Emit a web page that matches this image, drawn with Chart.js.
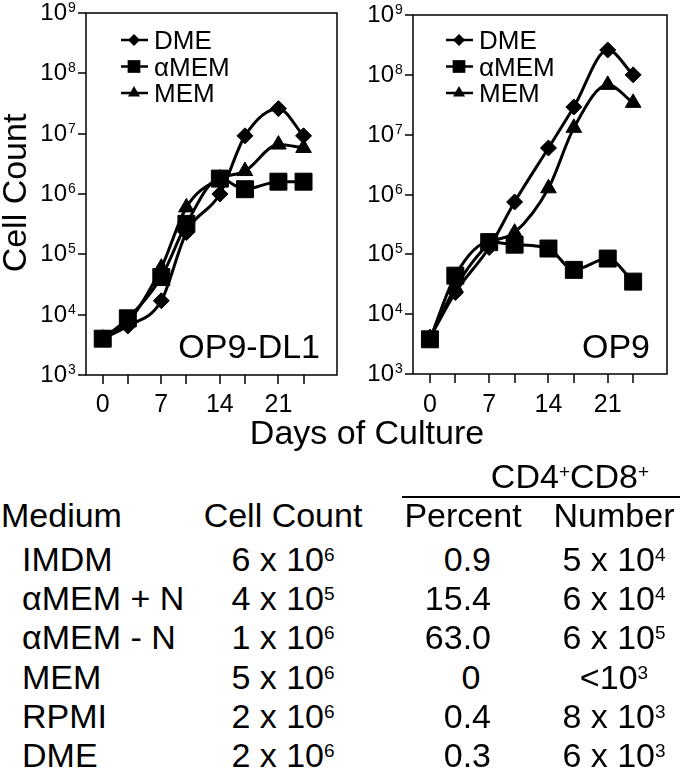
<!DOCTYPE html>
<html>
<head>
<meta charset="utf-8">
<script src="https://cdn.jsdelivr.net/npm/chart.js@4.4.0/dist/chart.umd.min.js"></script>
<style>
body { margin: 0; background: #fff; }
#wrap { position: relative; width: 680px; height: 768px; overflow: hidden; font-family: "Liberation Sans", Arial, sans-serif; color: #000; }
canvas { position: absolute; top: 0; }
.t { position: absolute; font-size: 34px; line-height: 34px; white-space: nowrap; }
.t sup { font-size: 19px; vertical-align: 10px; line-height: 0; }
</style>
</head>
<body>
<div id="wrap">
  <canvas id="left" width="350" height="460" style="left:0"></canvas>
  <canvas id="right" width="340" height="460" style="left:340px"></canvas>
  <div class="t" style="left:367px;top:415px;transform:translateX(-50%)">Days of Culture</div>
  <div id="table"></div>
</div>
<script>
var days = [0, 3, 7, 10, 14, 17, 21, 24];
var seriesNames = ['DME', 'αMEM', 'MEM'];

// OP9-DL1 panel
var dl1DME  = [4000, 6500, 17000, 230000, 1000000, 9200000, 26000000, 9200000];
var dl1aMEM = [4000, 8700, 42000, 320000, 1800000, 1200000, 1600000, 1600000];
var dl1MEM  = [4000, 7500, 60000, 600000, 1800000, 2400000, 6600000, 5800000];

// OP9 panel
var op9DME  = [4000, 23000, 130000, 750000, 6000000, 29000000, 260000000, 100000000];
var op9aMEM = [3800, 44000, 160000, 145000, 125000, 55000, 85000, 35000];
var op9MEM  = [4000, 28000, 150000, 230000, 1270000, 13000000, 68000000, 34000000];

var yExps = [3, 4, 5, 6, 7, 8, 9];
var xLabels = [0, 7, 14, 21];

// table
var mediums = ['IMDM', 'αMEM + N', 'αMEM - N', 'MEM', 'RPMI', 'DME'];
var cellMant = [6, 4, 1, 5, 2, 2];
var cellExp = [6, 5, 6, 6, 6, 6];
var percents = ['0.9', '15.4', '63.0', '0', '0.4', '0.3'];
var numMant = [5, 6, 6, null, 8, 6];
var numExp = [4, 4, 5, 3, 3, 3];

var FONT = '"Liberation Sans", Arial, sans-serif';
var styles = ['rectRot', 'rect', 'triangle'];
var radii = [8, 12, 9];
var legendRadii = [6, 9, 7];

var frame = {
    id: 'frame',
    afterDraw: function(chart) {
        var o = chart.options.plugins.frame;
        var ctx = chart.ctx, a = chart.chartArea;
        var xs = chart.scales.x, ys = chart.scales.y;
        ctx.save();
        ctx.strokeStyle = '#000';
        ctx.fillStyle = '#000';
        ctx.lineWidth = 1.5;
        ctx.strokeRect(a.left, a.top, a.right - a.left, a.bottom - a.top);

        // y ticks with 10^n labels
        yExps.forEach(function(e) {
            var y = Math.round(ys.getPixelForValue(Math.pow(10, e)));
            ctx.beginPath();
            ctx.moveTo(a.left - 8, y);
            ctx.lineTo(a.left, y);
            ctx.stroke();
            ctx.font = '24px ' + FONT;
            ctx.textAlign = 'right';
            ctx.textBaseline = 'alphabetic';
            ctx.fillText('10', a.left - 19, y + 7);
            ctx.font = '14px ' + FONT;
            ctx.textAlign = 'left';
            ctx.fillText(String(e), a.left - 18, y - 1);
        });

        // x ticks on every sampled day
        days.forEach(function(d) {
            var x = Math.round(xs.getPixelForValue(d));
            ctx.beginPath();
            ctx.moveTo(x, a.bottom);
            ctx.lineTo(x, a.bottom + 9);
            ctx.stroke();
        });
        ctx.font = '25px ' + FONT;
        ctx.textAlign = 'center';
        xLabels.forEach(function(d) {
            ctx.fillText(String(d), xs.getPixelForValue(d), 412);
        });

        // legend inside plot
        ctx.lineWidth = 2.5;
        seriesNames.forEach(function(n, i) {
            var y = o.legendY + i * 26.5;
            ctx.beginPath();
            ctx.moveTo(o.legendX, y);
            ctx.lineTo(o.legendX + 27, y);
            ctx.stroke();
            Chart.helpers.drawPoint(ctx, {pointStyle: styles[i], radius: legendRadii[i], borderWidth: 0, rotation: 0}, o.legendX + 13, y);
            ctx.font = '26px ' + FONT;
            ctx.textAlign = 'left';
            ctx.fillText(n, o.legendX + 33, y + 9);
        });

        // panel label
        ctx.font = '34px ' + FONT;
        ctx.textAlign = 'right';
        ctx.fillText(o.label, a.right - 17, 358);

        if (o.yTitle) {
            ctx.translate(26, 193);
            ctx.rotate(-Math.PI / 2);
            ctx.textAlign = 'center';
            ctx.fillText(o.yTitle, 0, 0);
        }
        ctx.restore();
    }
};

function ds(label, values, i) {
    return {
        label: label,
        data: days.map(function(d, k) { return {x: d, y: values[k]}; }),
        borderColor: '#000',
        backgroundColor: '#000',
        borderWidth: 3,
        pointStyle: styles[i],
        pointRadius: radii[i],
        pointBorderWidth: 1,
        cubicInterpolationMode: 'monotone'
    };
}

function makeChart(id, sets, opts) {
    return new Chart(document.getElementById(id), {
        type: 'line',
        data: {
            datasets: sets.map(function(v, i) { return ds(seriesNames[i], v, i); })
        },
        options: {
            responsive: false,
            animation: false,
            layout: { padding: opts.pad },
            scales: {
                x: { type: 'linear', min: -2, max: 28, display: false },
                y: { type: 'logarithmic', min: 1e3, max: 1e9, display: false }
            },
            plugins: {
                legend: { display: false },
                tooltip: { enabled: false },
                frame: opts
            }
        },
        plugins: [frame]
    });
}

makeChart('left', [dl1DME, dl1aMEM, dl1MEM], {
    pad: {left: 86, top: 11, right: 4, bottom: 85},
    legendX: 121, legendY: 40, label: 'OP9-DL1', yTitle: 'Cell Count'
});
makeChart('right', [op9DME, op9aMEM, op9MEM], {
    pad: {left: 73, top: 15, right: 5, bottom: 86},
    legendX: 106, legendY: 40, label: 'OP9'
});

// table below the plots
function cell(html, x, baseline, align) {
    var tr = align === 'center' ? 'translateX(-50%)' : (align === 'right' ? 'translateX(-100%)' : 'none');
    return '<div class="t" style="left:' + x + 'px;top:' + (baseline - 29) + 'px;transform:' + tr + '">' + html + '</div>';
}
var h = '';
h += cell('CD4<sup>+</sup>CD8<sup>+</sup>', 570, 488, 'center');
h += '<div style="position:absolute;left:402px;top:496px;width:278px;height:2px;background:#000"></div>';
h += cell('Medium', 1, 527, 'left');
h += cell('Cell Count', 283, 527, 'center');
h += cell('Percent', 463, 527, 'center');
h += cell('Number', 614, 527, 'center');
var rowBase = [571, 610, 649, 689, 728, 767];
mediums.forEach(function(m, i) {
    var b = rowBase[i];
    h += cell(m, 22, b, 'left');
    h += cell(cellMant[i] + ' x 10<sup>' + cellExp[i] + '</sup>', 283, b, 'center');
    if (percents[i] === '0') h += cell(percents[i], 471, b, 'center');
    else h += cell(percents[i], 491, b, 'right');
    var num = numMant[i] === null ? '&lt;10<sup>' + numExp[i] + '</sup>' : numMant[i] + ' x 10<sup>' + numExp[i] + '</sup>';
    h += cell(num, 614, b, 'center');
});
document.getElementById('table').innerHTML = h;
</script>
</body>
</html>
